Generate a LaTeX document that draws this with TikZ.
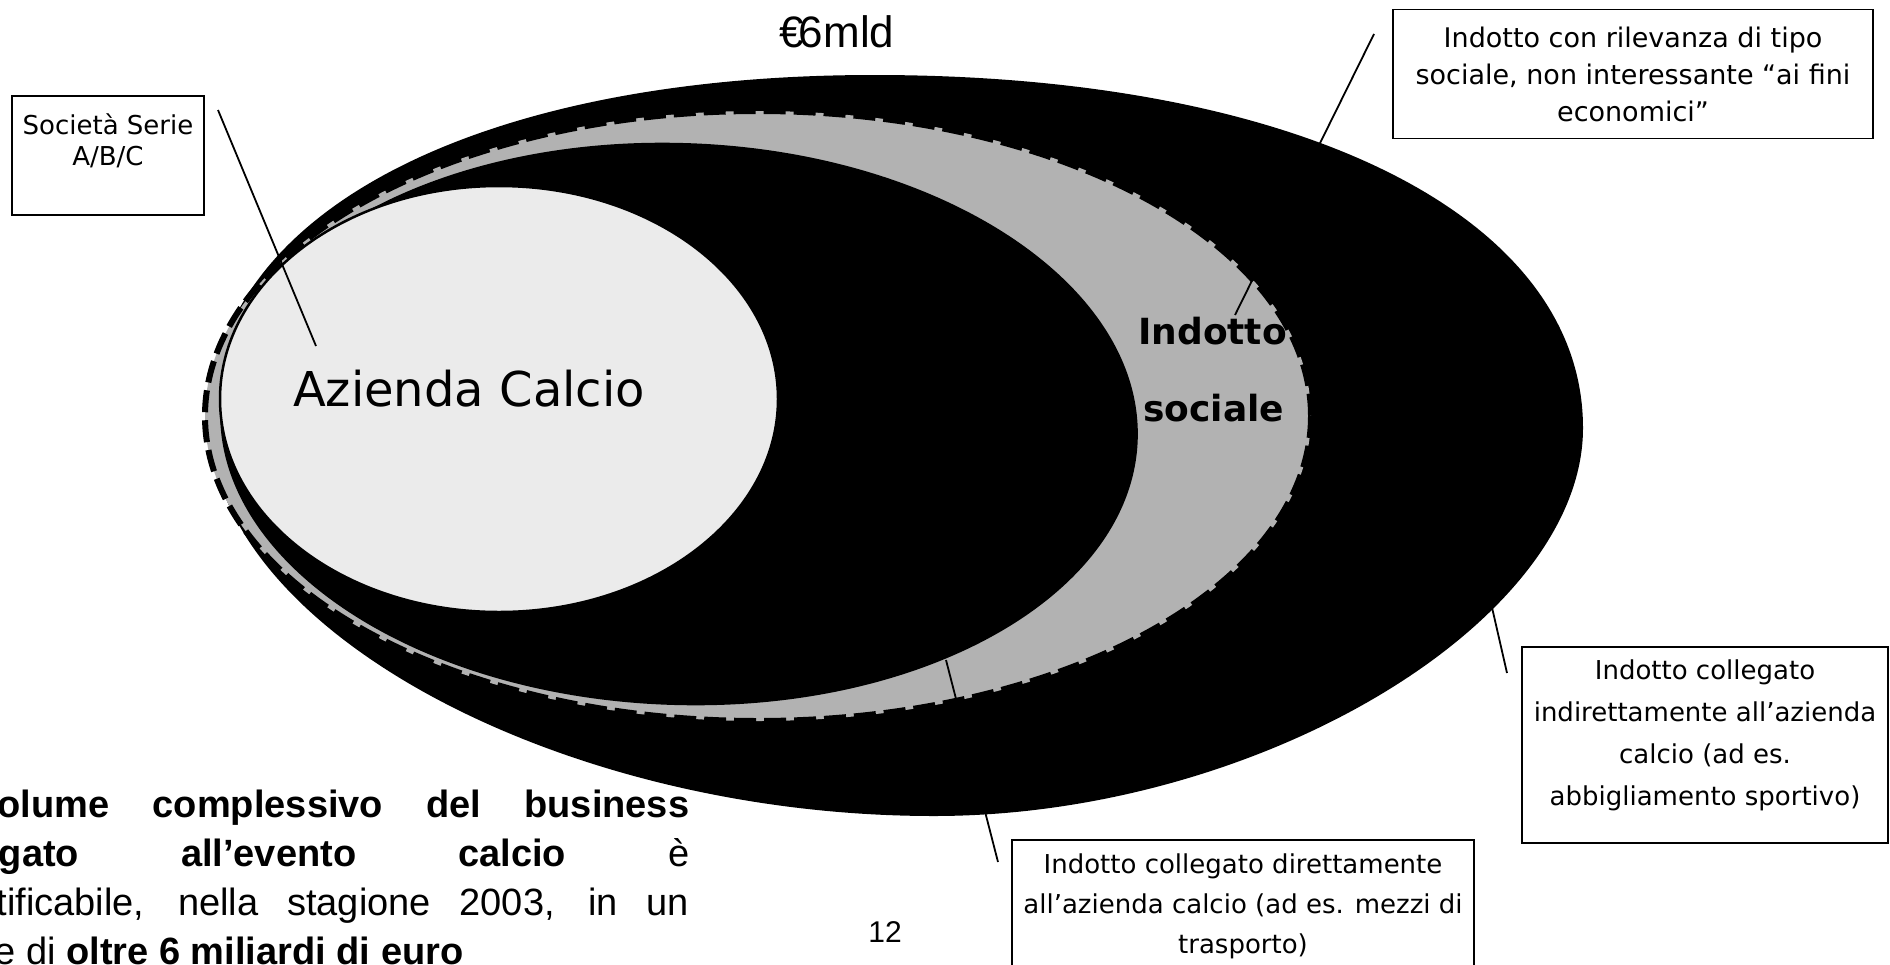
\documentclass[tikz,border=0pt]{standalone}
\usepackage{fontspec}
\setmainfont{DejaVu Sans}
\newfontfamily\arialfont{Liberation Sans}
\usepackage{tikz}

\definecolor{bandgray}{RGB}{178,178,178}
\definecolor{coregray}{RGB}{235,235,235}

\begin{document}
\begin{tikzpicture}[x=1pt,y=-1pt,inner sep=0pt,
  notebox/.style={draw=black,line width=1.8pt,fill=white,align=center,
    font=\fontsize{26}{38}\selectfont},
  leader/.style={draw=black,line width=1.8pt}]
\useasboundingbox (0,0) rectangle (1890,964);
\clip (0,0) rectangle (1890,964);
%Outer Shape
\coordinate (OuterL) at (210,422);
\coordinate (OuterT) at (874,75);
\coordinate (OuterR) at (1583,428);
\coordinate (OuterB) at (934,816);
\fill[black] (OuterL) .. controls (210,213.8) and (475.6,75) .. (OuterT)
  .. controls (1299.4,75) and (1583,216.2) .. (OuterR)
  .. controls (1583,622) and (1258.5,816) .. (OuterB)
  .. controls (557.5,816) and (210,626.9) .. (OuterL) -- cycle;
%Ellipses
\filldraw[fill=bandgray,draw=black,line width=6pt,dash pattern=on 22pt off 8pt] (758,416) ellipse [x radius=553,y radius=305];
\fill[black,rotate around={-2:(679,424)}] (679,424) ellipse [x radius=459,y radius=281];
\filldraw[fill=coregray,draw=black,line width=2.5pt] (499,399) ellipse [x radius=279,y radius=213];

%Connection Points
\coordinate (Foot1) at (218,110);
\coordinate (Tip1) at (316,346);
\coordinate (Foot2) at (1374,34);
\coordinate (Tip2) at (1235,315);
\coordinate (Foot3) at (1507,673);
\coordinate (Tip3) at (1488,590);
\coordinate (Foot4) at (998,862);
\coordinate (Tip4) at (946,660);

%Connections
\draw[leader] (Foot1) -- (Tip1);
\draw[leader] (Foot2) -- (Tip2);
\draw[leader] (Foot3) -- (Tip3);
\draw[leader] (Foot4) -- (Tip4);

%Node Labels
\node[font=\arialfont\fontsize{44}{44}\selectfont] (Total) at (837,32) {€\kern-0.12em6mld};
\node[font=\fontsize{48}{48}\selectfont] (Core) at (469,389) {Azienda Calcio};
\node[anchor=base west,font=\bfseries\fontsize{36}{36}\selectfont] (Band1) at (1138,344) {Indotto};
\node[anchor=base west,font=\bfseries\fontsize{36}{36}\selectfont] (Band2) at (1143,421) {sociale};
\node[font=\arialfont\fontsize{30}{30}\selectfont] (Page) at (885,932) {12};

%Boxes
\node[notebox,font=\fontsize{26}{31}\selectfont,minimum width=192pt,minimum height=119pt] (Box1) at (108,155.5) {Società Serie\\A/B/C\\~};
\node[notebox,font=\fontsize{27}{37}\selectfont,minimum width=480pt,minimum height=129pt] (Box2) at (1633,74) {Indotto con rilevanza di tipo\\sociale, non interessante “ai fini\\economici”};
\node[notebox,font=\fontsize{26}{42}\selectfont,minimum width=366pt,minimum height=196pt] (Box3) at (1705,745) {Indotto collegato\\indirettamente all’azienda\\calcio (ad es.\\abbigliamento sportivo)\\[-18pt]~};
\node[notebox,font=\fontsize{26}{40}\selectfont,minimum width=462pt,minimum height=132pt] (Box4) at (1243,906) {Indotto collegato direttamente\\all’azienda calcio (ad es. mezzi di\\trasporto)};

%Summary Text
\node[anchor=north west,text width=777pt,align=justify,font=\arialfont\fontsize{38}{49}\selectfont] (Summary) at (-88,790) {\textbf{Il volume complessivo del business}\linebreak \textbf{collegato all’evento calcio} è\linebreak quantificabile, nella stagione 2003, in un\linebreak valore di \textbf{oltre 6 miliardi di euro}};
\end{tikzpicture}
\end{document}
